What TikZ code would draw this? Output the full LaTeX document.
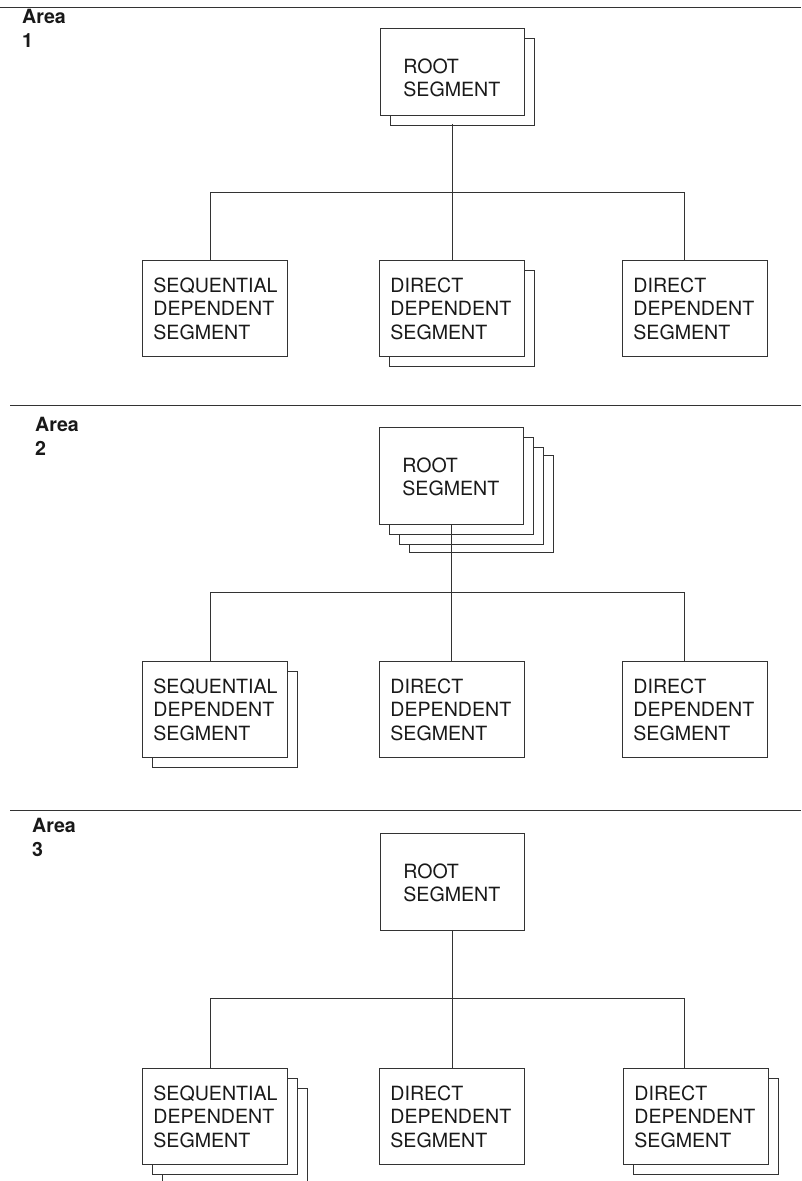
\documentclass[tikz,border=0pt]{standalone}
\usepackage{fontspec}
\setmainfont{TeX Gyre Heros}
\usetikzlibrary{shadows}

\tikzset{
    seg/.style={draw=black!80, line width=0.8pt, fill=white, text=black!90,
        font=\fontsize{19.6}{23.5}\selectfont, align=left, anchor=north west,
        inner xsep=11pt, inner ysep=0pt, text width=123pt,
        text height=32pt, text depth=64pt},
    rootseg/.style={seg, inner xsep=23pt, text width=98pt,
        text height=45pt, text depth=52pt},
    area/.style={font=\bfseries\fontsize{19.6}{24.5}\selectfont, text=black!90,
        align=left, text width=60pt, inner sep=0pt, anchor=base west},
    link/.style={draw=black!80, line width=0.8pt},
    onecopy/.style={copy shadow={shadow xshift=10pt, shadow yshift=-9.5pt,
        fill=white, draw=black!80}},
    twocopies/.style={copy shadow={shadow xshift=20pt, shadow yshift=-20pt,
        fill=white, draw=black!80}, onecopy},
    threecopies/.style={copy shadow={shadow xshift=30pt, shadow yshift=-28pt,
        fill=white, draw=black!80}, twocopies}
}

\begin{document}
\begin{tikzpicture}[x=1pt, y=-1pt]
        \useasboundingbox (0,0) rectangle (801,1181);
        \clip (0,0) rectangle (801,1181);

        % Area 1
        \draw[link] (0,7) -- (801,7);
        \node[area] (a1) at (22,23) {Area\\1};
        \node[rootseg, onecopy, text depth=42pt] (root1) at (380,28) {ROOT\\SEGMENT};
        \node[seg] (seq1) at (142,260) {SEQUENTIAL\\DEPENDENT\\SEGMENT};
        \node[seg, onecopy] (dir1) at (379,260) {DIRECT\\DEPENDENT\\SEGMENT};
        \node[seg] (dirb1) at (622,260) {DIRECT\\DEPENDENT\\SEGMENT};
        \coordinate (bl1) at (210,192);
        \coordinate (br1) at (684,192);
        \draw[link] (bl1) -- (br1);
        \draw[link] ([yshift=-8pt]root1.south) -- (root1.south |- dir1.north);
        \draw[link] (bl1) -- (bl1 |- seq1.north);
        \draw[link] (br1) -- (br1 |- dirb1.north);

        % Area 2
        \draw[link] (10,405) -- (801,405);
        \node[area] (a2) at (35,431) {Area\\2};
        \node[rootseg, threecopies] (root2) at (379,427) {ROOT\\SEGMENT};
        \node[seg, onecopy] (seq2) at (142,661) {SEQUENTIAL\\DEPENDENT\\SEGMENT};
        \node[seg] (dir2) at (379,661) {DIRECT\\DEPENDENT\\SEGMENT};
        \node[seg] (dirb2) at (622,661) {DIRECT\\DEPENDENT\\SEGMENT};
        \coordinate (bl2) at (210,592);
        \coordinate (br2) at (684,592);
        \draw[link] (bl2) -- (br2);
        \draw[link] (root2.south) -- (root2.south |- dir2.north);
        \draw[link] (bl2) -- (bl2 |- seq2.north);
        \draw[link] (br2) -- (br2 |- dirb2.north);

        % Area 3
        \draw[link] (10,810) -- (801,810);
        \node[area] (a3) at (32,832) {Area\\3};
        \node[rootseg] (root3) at (380,833) {ROOT\\SEGMENT};
        \node[seg, twocopies] (seq3) at (142,1068) {SEQUENTIAL\\DEPENDENT\\SEGMENT};
        \node[seg] (dir3) at (379,1068) {DIRECT\\DEPENDENT\\SEGMENT};
        \node[seg, onecopy] (dirb3) at (623,1068) {DIRECT\\DEPENDENT\\SEGMENT};
        \coordinate (bl3) at (210,998);
        \coordinate (br3) at (684,998);
        \draw[link] (bl3) -- (br3);
        \draw[link] (root3.south) -- (root3.south |- dir3.north);
        \draw[link] (bl3) -- (bl3 |- seq3.north);
        \draw[link] (br3) -- (br3 |- dirb3.north);
    \end{tikzpicture}
\end{document}
